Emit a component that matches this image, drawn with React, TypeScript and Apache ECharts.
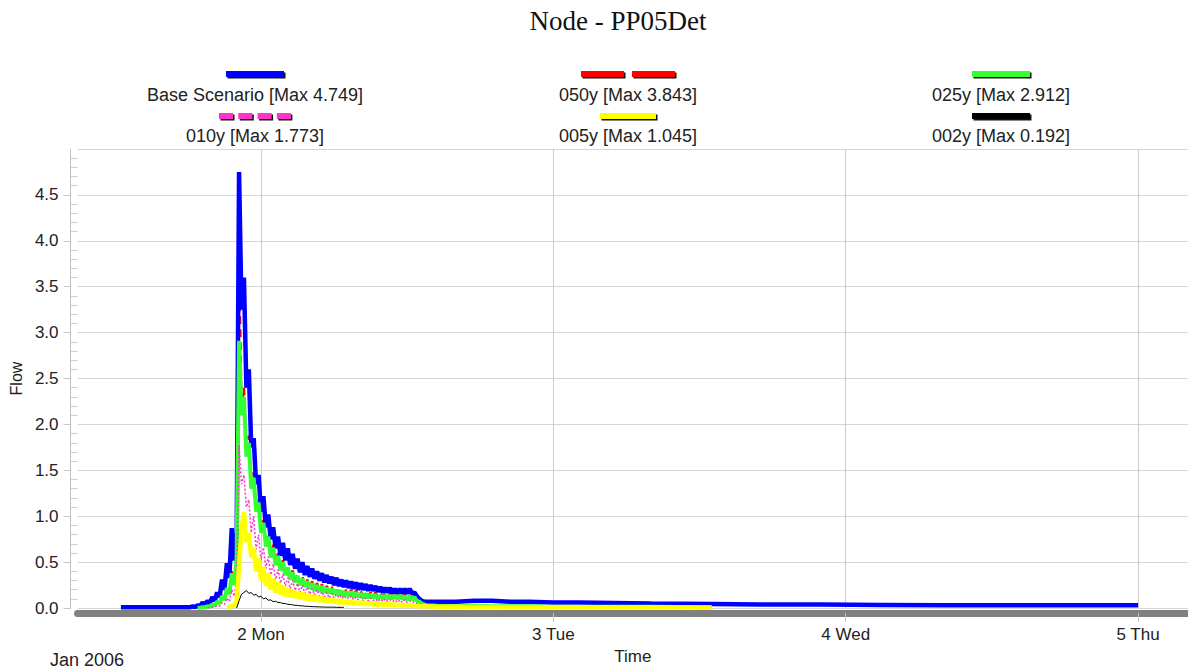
import React, { useEffect, useRef } from 'react';
import * as echarts from 'echarts';

// ---------------- DATA ----------------
const TITLE = 'Node - PP05Det';
const X_NAME = 'Time';
const Y_NAME = 'Flow';
const DATE_LABEL = 'Jan 2006';
const SERIES_NAMES = ['Base Scenario', '050y', '025y', '010y', '005y', '002y'];
const SERIES_COLORS = ['#0000ff', '#ff0000', '#33ff33', '#ff33cc', '#ffff00', '#000000'];

// x values are hours after Jan 1 2006 00:00
const X_MIN = 8.94;
const X_MAX = 100.1;
const X_TICK_HOURS = [24, 48, 72, 96];
const X_TICK_LABELS = ['2 Mon', '3 Tue', '4 Wed', '5 Thu'];
const Y_MIN = 0;
const Y_MAX = 5;
const Y_STEP = 0.5;

// sparse sample times before the rise (only the base scenario has flow there)
const LEAD_T = [12.5, 14, 16, 17.5];
const BLUE_LEAD = [0.01, 0.01, 0.01, 0.01];

// dense sample times every 12 minutes from 18:00 on Jan 1 (99 samples)
const DENSE_T = Array.from({ length: 99 }, (_, i) => Math.round((18 + 0.2 * i) * 10) / 10);

const BLUE_DENSE = [
  0.01, 0.01, 0.02, 0.01, 0.03, 0.02, 0.06, 0.03, 0.08, 0.05,
  0.12, 0.08, 0.17, 0.12, 0.31, 0.2, 0.49, 0.33, 0.87, 0.52,
  0.6, 4.749, 3.25, 3.6, 2.4, 2.6, 1.75, 1.85, 1.35, 1.45,
  1.05, 1.22, 0.88, 1.02, 0.75, 0.88, 0.65, 0.78, 0.57, 0.71,
  0.52, 0.65, 0.47, 0.59, 0.43, 0.54, 0.39, 0.5, 0.36, 0.46,
  0.34, 0.43, 0.32, 0.4, 0.3, 0.38, 0.28, 0.36, 0.27, 0.34,
  0.25, 0.33, 0.24, 0.31, 0.23, 0.3, 0.22, 0.29, 0.21, 0.28,
  0.2, 0.27, 0.2, 0.26, 0.19, 0.25, 0.19, 0.24, 0.18, 0.23,
  0.17, 0.22, 0.17, 0.22, 0.16, 0.21, 0.16, 0.21, 0.16, 0.21,
  0.16, 0.21, 0.16, 0.17, 0.13, 0.1, 0.08, 0.07, 0.07,
];
const RED_DENSE = [
  null, null, null, null, 0.005, 0.005, 0.01, 0.01, 0.02, 0.02,
  0.045, 0.035, 0.075, 0.055, 0.14, 0.1, 0.23, 0.16, 0.4, 0.27,
  0.58, 3.843, 2.15, 2.4, 1.7, 1.88, 1.33, 1.48, 1.08, 1.2,
  0.85, 0.96, 0.7, 0.81, 0.58, 0.69, 0.5, 0.6, 0.43, 0.52,
  0.38, 0.46, 0.33, 0.41, 0.3, 0.37, 0.27, 0.34, 0.25, 0.31,
  0.23, 0.29, 0.21, 0.27, 0.2, 0.26, 0.19, 0.24, 0.18, 0.23,
  0.17, 0.22, 0.16, 0.21, 0.15, 0.2, 0.15, 0.2, 0.14, 0.19,
  0.14, 0.18, 0.13, 0.18, 0.13, 0.17, 0.13, 0.17, 0.12, 0.16,
  0.12, 0.16, 0.12, 0.16, 0.12, 0.16, 0.12, 0.16, 0.12, 0.15,
  0.11, 0.15, 0.11, 0.14, 0.1, 0.08, 0.06, 0.05, 0.04,
];
const GREEN_DENSE = [
  null, null, null, null, 0.005, 0.005, 0.01, 0.01, 0.02, 0.015,
  0.04, 0.03, 0.07, 0.05, 0.13, 0.09, 0.22, 0.15, 0.38, 0.25,
  0.55, 2.912, 2.1, 2.3, 1.65, 1.8, 1.3, 1.42, 1.05, 1.15,
  0.82, 0.93, 0.67, 0.78, 0.55, 0.66, 0.47, 0.57, 0.41, 0.5,
  0.36, 0.44, 0.31, 0.39, 0.28, 0.35, 0.25, 0.32, 0.23, 0.29,
  0.21, 0.27, 0.19, 0.25, 0.18, 0.24, 0.17, 0.22, 0.16, 0.21,
  0.15, 0.2, 0.14, 0.19, 0.13, 0.18, 0.13, 0.18, 0.12, 0.17,
  0.12, 0.16, 0.11, 0.16, 0.11, 0.15, 0.11, 0.15, 0.1, 0.14,
  0.1, 0.14, 0.1, 0.14, 0.1, 0.14, 0.1, 0.14, 0.1, 0.13,
  0.09, 0.13, 0.09, 0.12, 0.08, 0.07, 0.05, 0.04, 0.03,
];
const MAGENTA_DENSE = [
  null, null, null, null, null, null, null, null, 0.005, 0.005,
  0.01, 0.01, 0.03, 0.02, 0.06, 0.04, 0.11, 0.07, 0.2, 0.13,
  0.3, 1.773, 1.35, 1.45, 1.1, 1.18, 0.82, 1.0, 0.64, 0.8,
  0.52, 0.66, 0.43, 0.56, 0.36, 0.48, 0.31, 0.42, 0.27, 0.37,
  0.24, 0.33, 0.21, 0.3, 0.19, 0.27, 0.17, 0.25, 0.16, 0.23,
  0.15, 0.21, 0.14, 0.2, 0.13, 0.18, 0.12, 0.17, 0.11, 0.16,
  0.11, 0.15, 0.11, 0.14, 0.1, 0.13, 0.1, 0.13, 0.09, 0.12,
  0.09, 0.12, 0.08, 0.11, 0.08, 0.11, 0.08, 0.1, 0.07, 0.1,
  0.07, 0.1, 0.07, 0.09, 0.07, 0.09, 0.06, 0.09, 0.06, 0.09,
  0.06, 0.08, 0.06, 0.07, 0.05, 0.04, 0.03, 0.02, 0.02,
];
const YELLOW_DENSE = [
  null, null, null, null, null, null, null, null, null, null,
  null, null, null, null, null, null, 0.005, 0.01, 0.03, 0.02,
  0.08, 0.45, 0.85, 1.045, 0.72, 0.82, 0.55, 0.66, 0.4, 0.54,
  0.3, 0.45, 0.24, 0.38, 0.2, 0.32, 0.17, 0.28, 0.15, 0.25,
  0.13, 0.22, 0.12, 0.2, 0.11, 0.18, 0.1, 0.17, 0.09, 0.15,
  0.08, 0.14, 0.08, 0.13, 0.07, 0.12, 0.07, 0.11, 0.06, 0.1,
  0.06, 0.09, 0.05, 0.09, 0.05, 0.08, 0.05, 0.08, 0.04, 0.07,
  0.04, 0.07, 0.04, 0.06, 0.04, 0.06, 0.03, 0.06, 0.03, 0.05,
  0.03, 0.05, 0.03, 0.05, 0.03, 0.04, 0.03, 0.04, 0.02, 0.04,
  0.02, 0.04, 0.02, 0.03, 0.02, 0.02, 0.02, 0.02, 0.02,
];
const BLACK_DENSE = [
  null, null, null, null, null, null, null, null, null, null,
  null, null, null, null, null, null, null, null, null, null,
  0.0, 0.08, 0.15, 0.17, 0.192, 0.16, 0.17, 0.14, 0.15, 0.12,
  0.13, 0.1, 0.11, 0.085, 0.09, 0.07, 0.075, 0.06, 0.06, 0.05,
  0.05, 0.04, 0.04, 0.035, 0.03, 0.03, 0.025, 0.025, 0.02, 0.02,
  0.018, 0.016, 0.015, 0.014, 0.013, 0.012, 0.011, 0.01, 0.01, 0.01,
  0.01, 0.008, 0.008, 0.008, 0.008,
];

// sparse sample times after the main response
const TAIL_T = [38.5, 40, 41.5, 43, 44.5, 46, 48, 50, 53, 56, 61, 65, 70, 75, 80, 85, 90, 96];
const BLUE_TAIL = [0.07, 0.07, 0.08, 0.08, 0.07, 0.07, 0.06, 0.06, 0.055, 0.05, 0.045, 0.04, 0.04, 0.035, 0.03, 0.03, 0.03, 0.03];
const RED_TAIL = [0.03, 0.025, 0.025, 0.02, 0.02, 0.02, 0.02, 0.015, 0.015, 0.015, 0.01];
const GREEN_TAIL = [0.025, 0.02, 0.025, 0.02, 0.02, 0.02, 0.015, 0.015, 0.015, 0.015, 0.01];
const MAGENTA_TAIL = [0.015, 0.015, 0.015, 0.012, 0.012, 0.012, 0.01, 0.01, 0.01, 0.01, 0.008];
const YELLOW_TAIL = [0.015, 0.015, 0.012, 0.012, 0.01, 0.01, 0.01, 0.01, 0.008, 0.008, 0.006];
const BLACK_TAIL: number[] = [];

const SERIES_LEAD = [BLUE_LEAD, [], [], [], [], []];
const SERIES_DENSE = [BLUE_DENSE, RED_DENSE, GREEN_DENSE, MAGENTA_DENSE, YELLOW_DENSE, BLACK_DENSE];
const SERIES_TAIL = [BLUE_TAIL, RED_TAIL, GREEN_TAIL, MAGENTA_TAIL, YELLOW_TAIL, BLACK_TAIL];

// ---------------- STYLE ----------------
const SANS = "'Liberation Sans', Arial, Helvetica, sans-serif";
const SERIF = "'Liberation Serif', 'Times New Roman', serif";
const LINE_STYLES: any[] = [
  { width: 4.5, type: 'solid', z: 3 },
  { width: 2.5, type: [8, 5], z: 2 },
  { width: 4, type: 'solid', z: 4 },
  { width: 1.5, type: [2, 2], z: 5 },
  { width: 4.5, type: 'solid', z: 6 },
  { width: 1, type: 'solid', z: 7 },
];
const LEGEND_COL_X = [255, 628, 1001];
const LEGEND_BAR_Y = [74, 116];
const LEGEND_TEXT_Y = [95, 136];
const LEGEND_BAR_LEN = [58, 94, 58, 72, 56, 58];
const LEGEND_DASH: (number[] | null)[] = [null, [43, 8], null, [14, 5.3], null, null];

function buildPoints(k: number): [number, number][] {
  const pts: [number, number][] = [];
  SERIES_LEAD[k].forEach((v: number | null, i: number) => { if (v != null) pts.push([LEAD_T[i], v]); });
  SERIES_DENSE[k].forEach((v: number | null, i: number) => { if (v != null) pts.push([DENSE_T[i], v]); });
  SERIES_TAIL[k].forEach((v: number | null, i: number) => { if (v != null) pts.push([TAIL_T[i], v]); });
  return pts;
}

export default function App() {
  const ref = useRef<HTMLDivElement>(null);
  useEffect(() => {
    if (!ref.current) return;
    const chart = echarts.init(ref.current, undefined, { renderer: 'svg' });

    const seriesPoints = SERIES_NAMES.map((_, k) => buildPoints(k));
    const maxes = seriesPoints.map((pts) => Math.max(...pts.map((p) => p[1])));

    const graphics: any[] = [];
    SERIES_NAMES.forEach((name, k) => {
      const col = k % 3;
      const row = Math.floor(k / 3);
      const cx = LEGEND_COL_X[col];
      const by = LEGEND_BAR_Y[row];
      const len = LEGEND_BAR_LEN[k];
      const dash = LEGEND_DASH[k];
      graphics.push({
        type: 'line',
        z: 10,
        shape: { x1: cx - len / 2 + 1.5, y1: by + 1.5, x2: cx + len / 2 + 1.5, y2: by + 1.5 },
        style: { stroke: '#111', lineWidth: 6, lineDash: dash || undefined },
      });
      graphics.push({
        type: 'line',
        z: 11,
        shape: { x1: cx - len / 2, y1: by, x2: cx + len / 2, y2: by },
        style: { stroke: SERIES_COLORS[k], lineWidth: 6, lineDash: dash || undefined },
      });
      graphics.push({
        type: 'text',
        z: 11,
        x: cx,
        y: LEGEND_TEXT_Y[row],
        style: {
          text: `${name} [Max ${maxes[k].toFixed(3)}]`,
          fill: '#222',
          fontSize: 18,
          fontFamily: SANS,
          textAlign: 'center',
          textVerticalAlign: 'middle',
        },
      });
    });
    graphics.push({
      type: 'text',
      x: 50,
      y: 660,
      style: { text: DATE_LABEL, fill: '#222', fontSize: 18, fontFamily: SANS, textAlign: 'left', textVerticalAlign: 'middle' },
    });

    const option: any = {
      animation: false,
      backgroundColor: '#ffffff',
      textStyle: { fontFamily: SANS },
      title: {
        text: TITLE,
        left: 618,
        top: 7,
        padding: 0,
        textAlign: 'center',
        textStyle: { fontFamily: SERIF, fontSize: 27, fontWeight: 'normal', color: '#111' },
      },
      grid: { left: 74, right: 0, top: 149, bottom: 54, containLabel: false },
      xAxis: {
        type: 'value',
        min: X_MIN,
        max: X_MAX,
        minInterval: 24,
        maxInterval: 24,
        offset: 5,
        name: X_NAME,
        nameLocation: 'middle',
        nameGap: 30,
        nameTextStyle: { fontSize: 17, color: '#222', fontFamily: SANS },
        axisLine: { show: true, onZero: false, lineStyle: { color: '#808080', width: 7 } },
        axisTick: { show: true, length: 9, customValues: X_TICK_HOURS, lineStyle: { color: '#c8c8c8' } },
        axisLabel: {
          fontSize: 17,
          color: '#222',
          margin: 13,
          customValues: X_TICK_HOURS,
          formatter: (v: number) => {
            const i = X_TICK_HOURS.indexOf(Math.round(v * 100) / 100);
            return i >= 0 ? X_TICK_LABELS[i] : '';
          },
        },
        splitLine: { show: true, lineStyle: { color: '#cccccc', width: 1 } },
      },
      yAxis: [
        {
          type: 'value',
          min: Y_MIN,
          max: Y_MAX,
          interval: Y_STEP,
          offset: 7,
          name: Y_NAME,
          nameLocation: 'middle',
          nameGap: 41,
          nameTextStyle: { fontSize: 16, color: '#222', fontFamily: SANS },
          axisLine: { show: true, onZero: false, lineStyle: { color: '#c0c0c0' } },
          axisTick: { show: true, length: 7, lineStyle: { color: '#c8c8c8' } },
          axisLabel: {
            fontSize: 17,
            color: '#222',
            margin: 12,
            showMaxLabel: false,
            formatter: (v: number) => v.toFixed(1),
          },
          splitLine: { show: true, lineStyle: { color: '#d6d6d6', width: 1 } },
        },
        {
          type: 'value',
          min: Y_MIN,
          max: Y_MAX,
          interval: Y_STEP,
          position: 'left',
          offset: 7,
          axisLine: { show: false, onZero: false },
          axisTick: { show: false, inside: true },
          axisLabel: { show: false },
          splitLine: { show: false },
          minorTick: { show: true, splitNumber: 5, length: 7, lineStyle: { color: '#cfcfcf' } },
        },
      ],
      series: SERIES_NAMES.map((name, k) => ({
        name,
        type: 'line',
        yAxisIndex: 0,
        data: seriesPoints[k],
        showSymbol: false,
        symbol: 'none',
        lineStyle: { color: SERIES_COLORS[k], width: LINE_STYLES[k].width, type: LINE_STYLES[k].type },
        itemStyle: { color: SERIES_COLORS[k] },
        z: LINE_STYLES[k].z,
      })),
      graphic: graphics,
    };
    chart.setOption(option);
    return () => chart.dispose();
  }, []);

  return (
    <div
      ref={ref}
      style={{ position: 'absolute', left: 0, top: 0, width: 1188, height: 670, background: '#fff' }}
    />
  );
}
